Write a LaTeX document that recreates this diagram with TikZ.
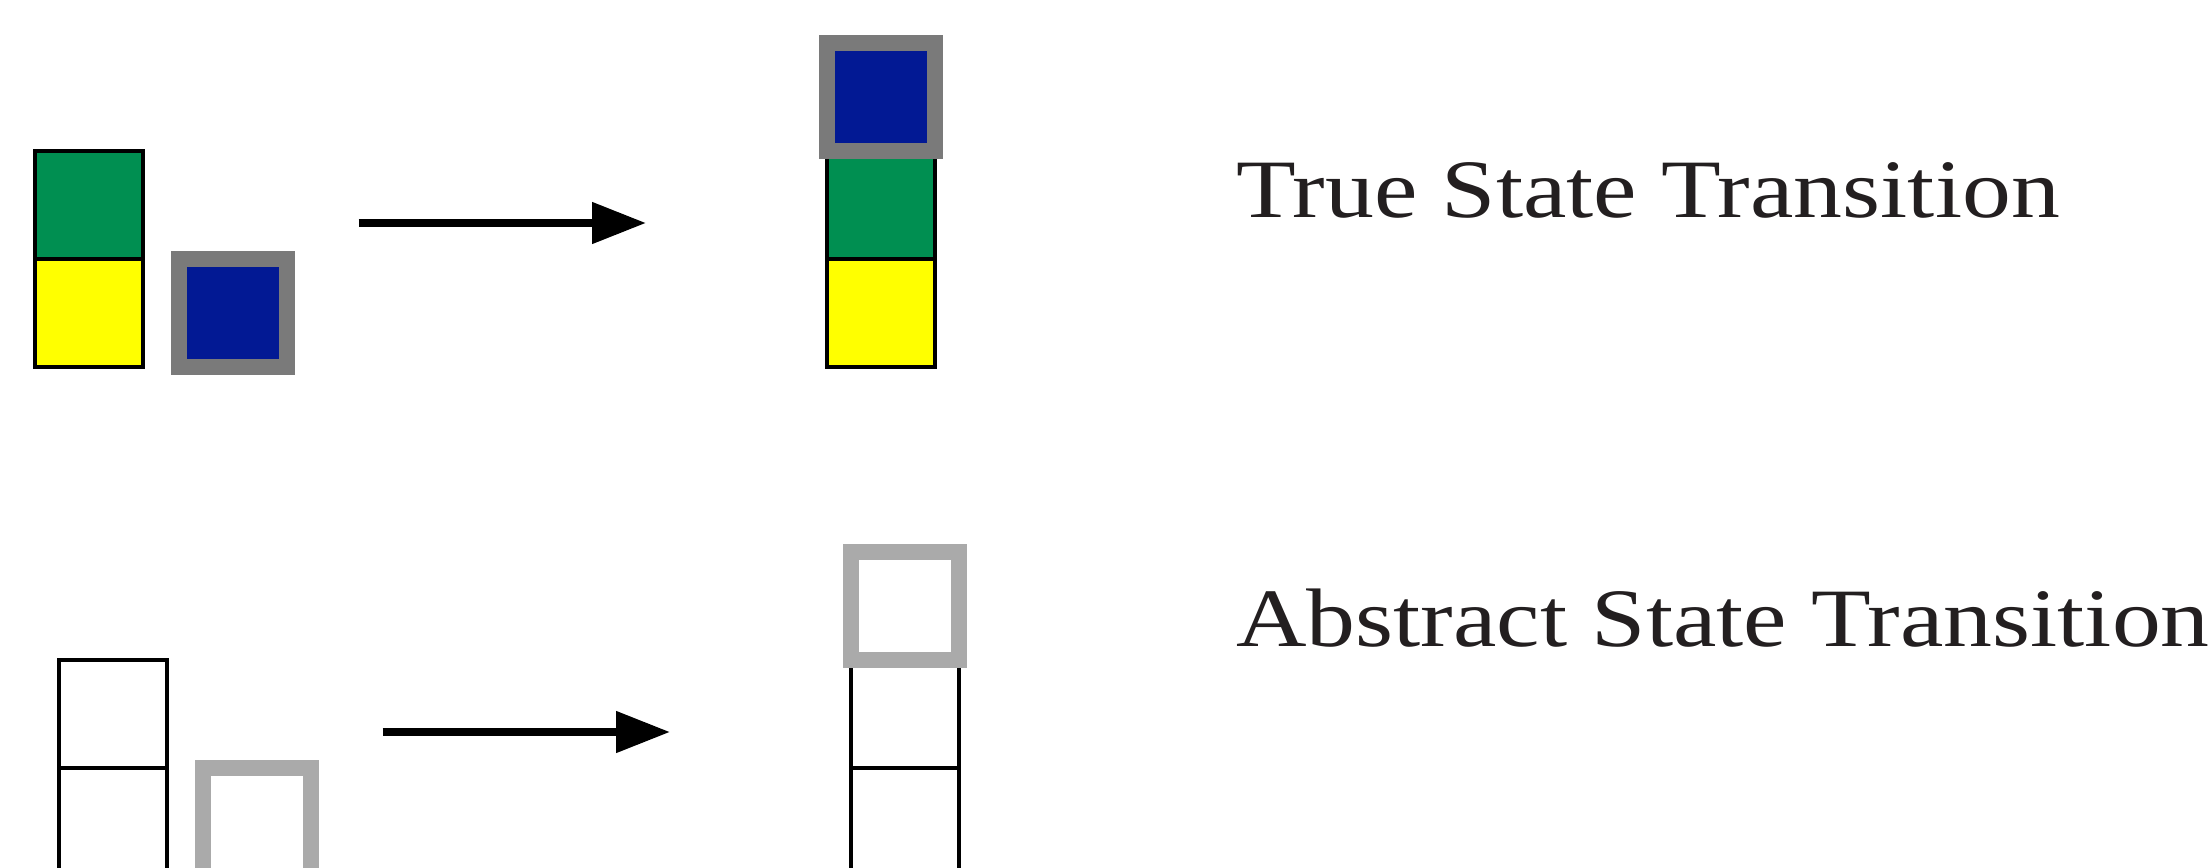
\documentclass[tikz,border=0pt]{standalone}
\usepackage{fontspec}
\usepackage{graphicx}
\setmainfont{Liberation Serif}
\usetikzlibrary{arrows.meta}
\definecolor{cgreen}{HTML}{008F51}
\definecolor{cyellow}{HTML}{FFFF00}
\definecolor{cblue}{HTML}{021994}
\definecolor{gdark}{HTML}{7A7A7A}
\definecolor{glight}{HTML}{AAAAAA}
\definecolor{txt}{HTML}{231F20}
\tikzset{
  cell/.style={draw=black, line width=2pt, minimum width=54pt, minimum height=54pt, inner sep=0pt, outer sep=0pt},
  gbox/.style={draw=gdark, line width=8pt, fill=cblue, minimum width=54pt, minimum height=54pt, inner sep=0pt, outer sep=0pt},
  lbox/.style={draw=glight, line width=8pt, fill=white, minimum width=54pt, minimum height=54pt, inner sep=0pt, outer sep=0pt},
  trans/.style={line width=4pt, -{Triangle[length=27pt,width=20pt]}},
  label/.style={anchor=base west, inner sep=0pt, text=txt, font=\fontsize{41.5pt}{50pt}\selectfont}
}
\begin{document}
\begin{tikzpicture}[x=0.5pt, y=-0.5pt]
\useasboundingbox (0,0) rectangle (2210,867);
\clip (0,0) rectangle (2210,867);
% top row: true state
\node[cell, fill=cgreen] (tg1) at (88.5,205) {};
\node[cell, fill=cyellow] (ty1) at (88.5,313) {};
\node[gbox] (tb1) at (232.75,313) {};
\coordinate (a1s) at (358.5,223);
\coordinate (a1e) at (646,223);
\draw[trans] (a1s) -- (a1e);
\node[cell, fill=cgreen] (tg2) at (881,205) {};
\node[cell, fill=cyellow] (ty2) at (881,313) {};
\node[gbox] (tb2) at (881,97) {};
\node[label] (t1) at (1236,217) {\scalebox{1.177}[1]{True State Transition}};
% bottom row: abstract state
\node[cell] (ag1) at (112.5,714) {};
\node[cell] (ay1) at (112.5,822) {};
\node[lbox] (ab1) at (256.75,822) {};
\coordinate (a2s) at (382.5,732);
\coordinate (a2e) at (670,732);
\draw[trans] (a2s) -- (a2e);
\node[cell] (ag2) at (905,714) {};
\node[cell] (ay2) at (905,822) {};
\node[lbox] (ab2) at (905,606) {};
\node[label] (t2) at (1236,646) {\scalebox{1.177}[1]{Abstract State Transition}};
\end{tikzpicture}
\end{document}
